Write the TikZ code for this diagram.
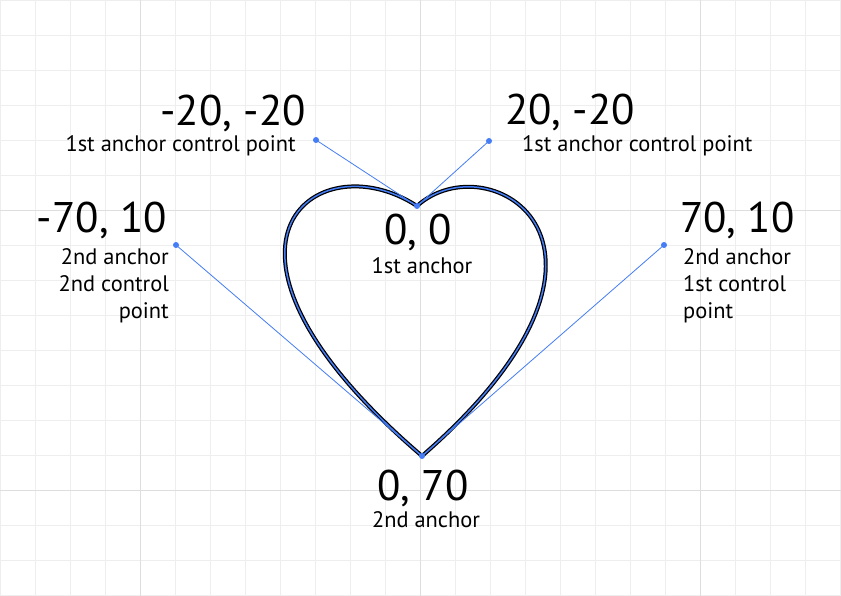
\documentclass[tikz,border=0pt]{standalone}
\usepackage{fontspec}
\setmainfont{PT Sans}
\usepackage{xcolor}
\definecolor{gridlight}{HTML}{EEEEEE}
\definecolor{griddark}{HTML}{DEDEDE}
\definecolor{pathblue}{HTML}{447DF5}
\tikzset{
  big/.style={inner sep=0pt, font=\fontsize{43}{50}\selectfont},
  small/.style={inner sep=0pt, font=\fontsize{22.5}{27}\selectfont},
  handle/.style={pathblue, line width=0.8pt},
  dot/.style={fill=pathblue, draw=none}
}

\begin{document}
\begin{tikzpicture}[x=1bp, y=-1bp]
  \useasboundingbox (0,0) rectangle (841,596);
  \fill[white] (0,0) rectangle (841,596);

  % Draw the grid
  \foreach \i in {0,35,...,840}
    \draw[gridlight, line width=0.8pt] (\i,0) -- (\i,596);
  \foreach \j in {0,35,...,595}
    \draw[gridlight, line width=0.8pt] (0,\j) -- (841,\j);
  \foreach \i in {140,420,700}
    \draw[griddark, line width=0.8pt] (\i,0) -- (\i,596);
  \foreach \j in {210,490}
    \draw[griddark, line width=0.8pt] (0,\j) -- (841,\j);

  % Anchors and control points
  \coordinate (top) at (417,206);
  \coordinate (bottom) at (422,456);
  \coordinate (topleft) at (316,140);
  \coordinate (topright) at (489,141);
  \coordinate (left) at (176,245);
  \coordinate (right) at (664,245);

  % Heart outline
  \draw[black, line width=4pt, line join=round]
    (top) .. controls (topright) and (right) .. (bottom)
          .. controls (left) and (topleft) .. (top) -- cycle;
  \draw[pathblue, line width=1.5pt, line join=round]
    (top) .. controls (topright) and (right) .. (bottom)
          .. controls (left) and (topleft) .. (top) -- cycle;

  % Handles
  \draw[handle] (topleft) -- (top);
  \draw[handle] (topright) -- (top);
  \draw[handle] (left) -- (bottom);
  \draw[handle] (right) -- (bottom);
  \foreach \p in {top,bottom,topleft,topright,left,right}
    \fill[dot] (\p) circle (3bp);

  % Labels
  \node[big, anchor=base east] (tlnum) at (306,126) {-20, -20};
  \node[small, anchor=base east] (tltext) at (296,152) {1st anchor control point};
  \node[big, anchor=base west] (trnum) at (505,125) {20, -20};
  \node[small, anchor=base west] (trtext) at (522,152) {1st anchor control point};

  \node[big, anchor=base east] (lnum) at (167,233) {-70, 10};
  \node[small, anchor=base east, align=right] (ltext) at (169,318)
    {2nd anchor\\2nd control\\point};
  \node[big, anchor=base west] (rnum) at (680,233) {70, 10};
  \node[small, anchor=base west, align=left] (rtext) at (683,318)
    {2nd anchor\\1st control\\point};

  \node[big, anchor=base] (topnum) at (418,245) {0, 0};
  \node[small, anchor=base] (toptext) at (422,273) {1st anchor};
  \node[big, anchor=base] (botnum) at (423,500) {0, 70};
  \node[small, anchor=base] (bottext) at (426,527) {2nd anchor};
\end{tikzpicture}
\end{document}
